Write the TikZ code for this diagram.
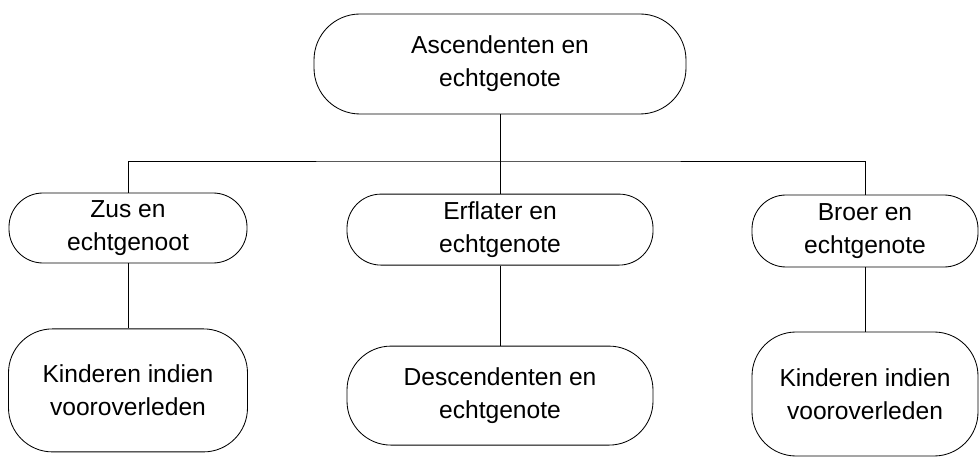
\documentclass[tikz,border=0pt]{standalone}
\usepackage{fontspec}
\setmainfont{Liberation Sans}
\usepackage{tikz}

\tikzset{ruta/.style={draw, rounded corners=0.85cm, align=center,
    font=\fontsize{17.5}{23.5}\selectfont}}

\begin{document}
\begin{tikzpicture}[line width=0.6pt]
  \useasboundingbox (0,0) rectangle (24.475,11.4);
  % Bovenste rij
  \node[ruta, rounded corners=1.15cm, minimum width=9.3cm, minimum height=2.5cm] (asc) at (12.5,9.8) {Ascendenten en\\echtgenote};
  % Middelste rij
  \node[ruta, minimum width=5.95cm, minimum height=1.75cm] (zus) at (3.2,5.7) {Zus en\\echtgenoot};
  \node[ruta, minimum width=7.65cm, minimum height=1.775cm] (erfl) at (12.5,5.66) {Erflater en\\echtgenote};
  \node[ruta, minimum width=5.65cm, minimum height=1.8cm] (broer) at (21.625,5.625) {Broer en\\echtgenote};
  % Onderste rij
  \node[ruta, rounded corners=1.1cm, minimum width=5.975cm, minimum height=3.075cm] (kind1) at (3.2,1.64) {Kinderen indien\\vooroverleden};
  \node[ruta, rounded corners=1.1cm, minimum width=7.65cm, minimum height=2.475cm] (desc) at (12.5,1.51) {Descendenten en\\echtgenote};
  \node[ruta, rounded corners=1.1cm, minimum width=5.65cm, minimum height=3.1cm] (kind2) at (21.625,1.55) {Kinderen indien\\vooroverleden};
  % Lijnen
  \coordinate (tak) at (12.5,7.375);
  \draw (asc) -- (tak);
  \draw (zus) |- (tak) -| (broer);
  \draw (tak) -- (erfl);
  \draw (zus) -- (kind1);
  \draw (erfl) -- (desc);
  \draw (broer) -- (kind2);
\end{tikzpicture}
\end{document}
